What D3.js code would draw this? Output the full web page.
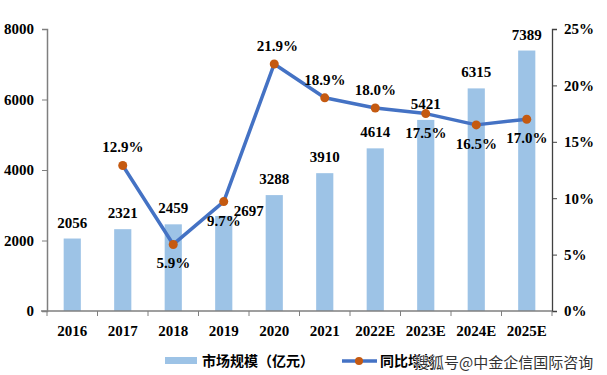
<!DOCTYPE html>
<html>
<head>
<meta charset="utf-8">
<script src="https://cdn.jsdelivr.net/npm/d3@7"></script>
<style>
  body { margin: 0; background: #fff; }
  svg { display: block; }
  .num { font-family: "Liberation Serif", "Times New Roman", serif; font-weight: bold; }
  .cjk { font-family: "Noto Sans CJK SC", sans-serif; font-weight: bold; }
</style>
</head>
<body>
<svg id="chart" width="607" height="375"></svg>
<script>
const years = ['2016', '2017', '2018', '2019', '2020', '2021', '2022E', '2023E', '2024E', '2025E']
const marketSize = [2056, 2321, 2459, 2697, 3288, 3910, 4614, 5421, 6315, 7389]
const growth = [null, 12.9, 5.9, 9.7, 21.9, 18.9, 18.0, 17.5, 16.5, 17.0]
const leftTicks = [0, 2000, 4000, 6000, 8000]
const rightTicks = [0, 5, 10, 15, 20, 25]
const legendNames = ['市场规模（亿元）', '同比增长']
const watermark = '搜狐号@中金企信国际咨询'

// label placement: 'a' above, 'b' below the point
const pctPos = [null, 'a', 'b', 'b', 'a', 'a', 'a', 'b', 'b', 'b']

const svg = d3.select('#chart')
const mLeft = 47, mRight = 552, mTop = 29, mBottom = 311

const x = d3.scaleBand().domain(years).range([mLeft, mRight])
const yL = d3.scaleLinear().domain([0, 8000]).range([mBottom, mTop])
const yR = d3.scaleLinear().domain([0, 25]).range([mBottom, mTop])
const cx = d => x(d) + x.bandwidth() / 2
const barW = x.bandwidth() * 0.34

// bars
svg.append('g').selectAll('rect')
  .data(marketSize)
  .enter()
  .append('rect')
  .attr('x', (d, i) => cx(years[i]) - barW / 2)
  .attr('y', d => yL(d))
  .attr('width', barW)
  .attr('height', d => mBottom - yL(d))
  .attr('fill', '#9DC3E6')

// left axis
const axL = svg.append('g')
  .attr('transform', `translate(${mLeft},0)`)
  .call(d3.axisLeft(yL).tickValues(leftTicks).tickSize(5).tickPadding(8).tickFormat(d3.format('d')))
axL.select('.domain').attr('stroke', '#7f7f7f').attr('stroke-width', 1.5)
axL.selectAll('line').attr('stroke', '#7f7f7f')
axL.selectAll('text').attr('class', 'num').attr('font-size', 15).attr('fill', '#000')

// right axis
const axR = svg.append('g')
  .attr('transform', `translate(${mRight},0)`)
  .call(d3.axisRight(yR).tickValues(rightTicks).tickSize(5).tickPadding(7).tickFormat(d => d + '%'))
axR.select('.domain').attr('stroke', '#404040').attr('stroke-width', 1.3)
axR.selectAll('line').attr('stroke', '#404040')
axR.selectAll('text').attr('class', 'num').attr('font-size', 15).attr('fill', '#000')

// x axis with ticks at category edges
const axX = svg.append('g').attr('transform', `translate(0,${mBottom})`)
axX.append('line').attr('x1', mLeft - 6).attr('x2', mRight).attr('stroke', '#7f7f7f').attr('stroke-width', 1.5)
axX.selectAll('.tk')
  .data(years.concat(['end']))
  .enter()
  .append('line')
  .attr('x1', (d, i) => i < years.length ? x(d) : mRight)
  .attr('x2', (d, i) => i < years.length ? x(d) : mRight)
  .attr('y1', 0).attr('y2', 5)
  .attr('stroke', '#7f7f7f')
axX.selectAll('text')
  .data(years)
  .enter()
  .append('text')
  .attr('class', 'num')
  .attr('x', d => cx(d))
  .attr('y', 25)
  .attr('text-anchor', 'middle')
  .attr('font-size', 15)
  .text(d => d)

// bar value labels
svg.append('g').selectAll('text')
  .data(marketSize)
  .enter()
  .append('text')
  .attr('class', 'num')
  .attr('font-size', 15)
  .attr('text-anchor', 'middle')
  .attr('x', (d, i) => cx(years[i]) + (years[i] === '2019' ? 25 : 0))
  .attr('y', (d, i) => yL(d) - (years[i] === '2019' ? 0 : 11))
  .text(d => d)

// growth line
const pts = growth.map((g, i) => ({ year: years[i], g, pos: pctPos[i] })).filter(d => d.g !== null)
const line = d3.line().x(d => cx(d.year)).y(d => yR(d.g))
svg.append('path')
  .datum(pts)
  .attr('d', line)
  .attr('fill', 'none')
  .attr('stroke', '#4472C4')
  .attr('stroke-width', 3.5)
  .attr('stroke-linejoin', 'round')

svg.append('g').selectAll('circle')
  .data(pts)
  .enter()
  .append('circle')
  .attr('cx', d => cx(d.year))
  .attr('cy', d => yR(d.g))
  .attr('r', 4.5)
  .attr('fill', '#C55A11')

svg.append('g').selectAll('text')
  .data(pts)
  .enter()
  .append('text')
  .attr('class', 'num')
  .attr('font-size', 15)
  .attr('text-anchor', 'middle')
  .attr('x', d => cx(d.year) + (d.year === '2020' ? 3 : 0))
  .attr('y', d => yR(d.g) + (d.pos === 'a' ? -13 : 24))
  .text(d => d3.format('.1f')(d.g) + '%')

// legend
const lg = svg.append('g')
lg.append('rect').attr('x', 165).attr('y', 357).attr('width', 32).attr('height', 7).attr('fill', '#9DC3E6')
lg.append('text').attr('class', 'cjk').attr('x', 202).attr('y', 366).attr('font-size', 14).text(legendNames[0])
lg.append('line').attr('x1', 342).attr('x2', 377).attr('y1', 361).attr('y2', 361)
  .attr('stroke', '#4472C4').attr('stroke-width', 3.5)
lg.append('circle').attr('cx', 359).attr('cy', 361).attr('r', 4).attr('fill', '#C55A11')
lg.append('text').attr('class', 'cjk').attr('x', 380).attr('y', 366).attr('font-size', 14).text(legendNames[1])

// watermark (overlays the legend, as in the source image)
svg.append('text')
  .attr('x', 414).attr('y', 368)
  .attr('font-family', '"Noto Sans CJK SC", sans-serif')
  .attr('font-size', 15)
  .attr('fill', '#333')
  .attr('stroke', '#fff')
  .attr('stroke-width', 1)
  .attr('paint-order', 'stroke')
  .text(watermark)
</script>
</body>
</html>
